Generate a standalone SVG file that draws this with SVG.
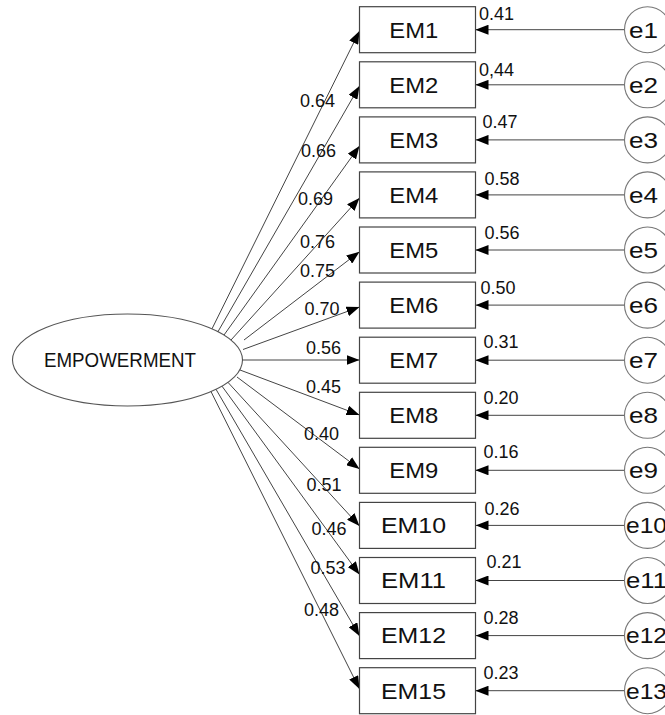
<svg xmlns="http://www.w3.org/2000/svg" width="665" height="715" viewBox="0 0 665 715">
<defs>
<marker id="ah" viewBox="0 0 13 10" refX="13" refY="5" markerWidth="13" markerHeight="10" markerUnits="userSpaceOnUse" orient="auto">
<path d="M0,0 L13,5 L0,10 z" fill="#000"/>
</marker>
</defs>
<style>
text{font-family:"Liberation Sans",Arial,sans-serif;fill:#111}
.box{fill:#fff;stroke:#444;stroke-width:1.2}
.err{fill:#fff;stroke:#777;stroke-width:1.1}
.lat{fill:#fff;stroke:#555;stroke-width:1.1}
.c{stroke:#444;stroke-width:1;fill:none;marker-end:url(#ah)}
.x{stroke:#444;stroke-width:1;fill:none}
.bl{font-size:22px;text-anchor:middle}
.el{font-size:21.5px}
.lb{font-size:18px}
</style>
<rect width="665" height="715" fill="#fff"/>
<g id="EMPOWERMENT">
<ellipse class="lat" cx="127.5" cy="360" rx="115" ry="46"/>
<text x="44" y="366.7" font-size="19.5" textLength="152" lengthAdjust="spacingAndGlyphs">EMPOWERMENT</text>
</g>
<g id="connectors">
<line class="c" x1="212" y1="328.8" x2="359.5" y2="31"/>
<line class="c" x1="218" y1="331.6" x2="359.5" y2="86"/>
<line class="c" x1="224" y1="335" x2="359.5" y2="146"/>
<line class="c" x1="231" y1="340" x2="359.5" y2="198"/>
<line class="c" x1="244" y1="340" x2="359.5" y2="251.7"/>
<line class="x" x1="359.5" y1="251.7" x2="367" y2="246"/>
<line class="c" x1="243" y1="349.5" x2="359.5" y2="307"/>
<line class="c" x1="242.5" y1="360" x2="359.5" y2="360"/>
<line class="c" x1="240" y1="370" x2="359.5" y2="415"/>
<line class="c" x1="237" y1="377" x2="359.5" y2="469"/>
<line class="c" x1="228" y1="382.4" x2="359.5" y2="526"/>
<line class="c" x1="222" y1="386.2" x2="359.5" y2="574.6"/>
<line class="x" x1="359.5" y1="574.6" x2="364.7" y2="581.7"/>
<line class="c" x1="216" y1="389.3" x2="359.5" y2="636"/>
<line class="c" x1="211" y1="391.6" x2="359.5" y2="689"/>
<line class="c" x1="624.5" y1="29.7" x2="475.5" y2="29.7"/>
<line class="c" x1="624.5" y1="84.8" x2="475.5" y2="84.8"/>
<line class="c" x1="624.5" y1="139.9" x2="475.5" y2="139.9"/>
<line class="c" x1="624.5" y1="194.9" x2="475.5" y2="194.9"/>
<line class="c" x1="624.5" y1="250" x2="475.5" y2="250"/>
<line class="c" x1="624.5" y1="305.1" x2="475.5" y2="305.1"/>
<line class="c" x1="624.5" y1="360.2" x2="475.5" y2="360.2"/>
<line class="c" x1="624.5" y1="415.3" x2="475.5" y2="415.3"/>
<line class="c" x1="624.5" y1="470.3" x2="475.5" y2="470.3"/>
<line class="c" x1="624.5" y1="525.4" x2="475.5" y2="525.4"/>
<line class="c" x1="624.5" y1="580.5" x2="475.5" y2="580.5"/>
<line class="c" x1="624.5" y1="635.6" x2="475.5" y2="635.6"/>
<line class="c" x1="624.5" y1="690.7" x2="475.5" y2="690.7"/>
</g>
<g id="loadings" class="lb">
<text x="300" y="106.7">0.64</text>
<text x="301" y="156.7">0.66</text>
<text x="298" y="205">0.69</text>
<text x="300" y="248">0.76</text>
<text x="300" y="277">0.75</text>
<text x="304.5" y="315">0.70</text>
<text x="306" y="354">0.56</text>
<text x="306" y="393.3">0.45</text>
<text x="304" y="440">0.40</text>
<text x="306.6" y="490.7">0.51</text>
<text x="311.5" y="535">0.46</text>
<text x="310.5" y="574">0.53</text>
<text x="304" y="615.7">0.48</text>
</g>
<g id="variances" class="lb">
<text x="479" y="20">0.41</text>
<text x="479" y="76">0,44</text>
<text x="482.5" y="128.3">0.47</text>
<text x="484.5" y="185">0.58</text>
<text x="484.5" y="239">0.56</text>
<text x="480.5" y="294.3">0.50</text>
<text x="483.5" y="348.3">0.31</text>
<text x="483.5" y="404.3">0.20</text>
<text x="483.5" y="457.7">0.16</text>
<text x="484.5" y="515">0.26</text>
<text x="486.4" y="568.3">0.21</text>
<text x="483.5" y="624.3">0.28</text>
<text x="483.5" y="679.3">0.23</text>
</g>
<g id="EM1"><rect class="box" x="359.5" y="6.7" width="116" height="46"/><text class="bl" x="413.8" y="37.5" textLength="49" lengthAdjust="spacingAndGlyphs">EM1</text></g>
<g id="EM2"><rect class="box" x="359.5" y="61.8" width="116" height="46"/><text class="bl" x="413.8" y="92.6" textLength="49" lengthAdjust="spacingAndGlyphs">EM2</text></g>
<g id="EM3"><rect class="box" x="359.5" y="116.9" width="116" height="46"/><text class="bl" x="413.8" y="147.7" textLength="49" lengthAdjust="spacingAndGlyphs">EM3</text></g>
<g id="EM4"><rect class="box" x="359.5" y="171.9" width="116" height="46"/><text class="bl" x="413.8" y="202.7" textLength="49" lengthAdjust="spacingAndGlyphs">EM4</text></g>
<g id="EM5"><rect class="box" x="359.5" y="227" width="116" height="46"/><text class="bl" x="413.8" y="257.8" textLength="49" lengthAdjust="spacingAndGlyphs">EM5</text></g>
<g id="EM6"><rect class="box" x="359.5" y="282.1" width="116" height="46"/><text class="bl" x="413.8" y="312.9" textLength="49" lengthAdjust="spacingAndGlyphs">EM6</text></g>
<g id="EM7"><rect class="box" x="359.5" y="337.2" width="116" height="46"/><text class="bl" x="413.8" y="368" textLength="49" lengthAdjust="spacingAndGlyphs">EM7</text></g>
<g id="EM8"><rect class="box" x="359.5" y="392.3" width="116" height="46"/><text class="bl" x="413.8" y="423.1" textLength="49" lengthAdjust="spacingAndGlyphs">EM8</text></g>
<g id="EM9"><rect class="box" x="359.5" y="447.3" width="116" height="46"/><text class="bl" x="413.8" y="478.1" textLength="49" lengthAdjust="spacingAndGlyphs">EM9</text></g>
<g id="EM10"><rect class="box" x="359.5" y="502.4" width="116" height="46"/><text class="bl" x="413.5" y="533.2" textLength="65" lengthAdjust="spacingAndGlyphs">EM10</text></g>
<g id="EM11"><rect class="box" x="359.5" y="557.5" width="116" height="46"/><text class="bl" x="413.5" y="588.3" textLength="65" lengthAdjust="spacingAndGlyphs">EM11</text></g>
<g id="EM12"><rect class="box" x="359.5" y="612.6" width="116" height="46"/><text class="bl" x="413.5" y="643.4" textLength="65" lengthAdjust="spacingAndGlyphs">EM12</text></g>
<g id="EM15"><rect class="box" x="359.5" y="667.7" width="116" height="46"/><text class="bl" x="413.5" y="698.5" textLength="65" lengthAdjust="spacingAndGlyphs">EM15</text></g>
<g id="e1"><circle class="err" cx="647.5" cy="29.7" r="23"/><text class="el" x="629" y="37.5" textLength="29" lengthAdjust="spacingAndGlyphs">e1</text></g>
<g id="e2"><circle class="err" cx="647.5" cy="84.8" r="23"/><text class="el" x="629" y="92.6" textLength="29" lengthAdjust="spacingAndGlyphs">e2</text></g>
<g id="e3"><circle class="err" cx="647.5" cy="139.9" r="23"/><text class="el" x="629" y="147.7" textLength="29" lengthAdjust="spacingAndGlyphs">e3</text></g>
<g id="e4"><circle class="err" cx="647.5" cy="194.9" r="23"/><text class="el" x="629" y="202.7" textLength="29" lengthAdjust="spacingAndGlyphs">e4</text></g>
<g id="e5"><circle class="err" cx="647.5" cy="250" r="23"/><text class="el" x="629" y="257.8" textLength="29" lengthAdjust="spacingAndGlyphs">e5</text></g>
<g id="e6"><circle class="err" cx="647.5" cy="305.1" r="23"/><text class="el" x="629" y="312.9" textLength="29" lengthAdjust="spacingAndGlyphs">e6</text></g>
<g id="e7"><circle class="err" cx="647.5" cy="360.2" r="23"/><text class="el" x="629" y="368" textLength="29" lengthAdjust="spacingAndGlyphs">e7</text></g>
<g id="e8"><circle class="err" cx="647.5" cy="415.3" r="23"/><text class="el" x="629" y="423.1" textLength="29" lengthAdjust="spacingAndGlyphs">e8</text></g>
<g id="e9"><circle class="err" cx="647.5" cy="470.3" r="23"/><text class="el" x="629" y="478.1" textLength="29" lengthAdjust="spacingAndGlyphs">e9</text></g>
<g id="e10"><circle class="err" cx="647.5" cy="525.4" r="23"/><text class="el" x="626" y="533.2" textLength="41" lengthAdjust="spacingAndGlyphs">e10</text></g>
<g id="e11"><circle class="err" cx="647.5" cy="580.5" r="23"/><text class="el" x="626" y="588.3" textLength="41" lengthAdjust="spacingAndGlyphs">e11</text></g>
<g id="e12"><circle class="err" cx="647.5" cy="635.6" r="23"/><text class="el" x="626" y="643.4" textLength="41" lengthAdjust="spacingAndGlyphs">e12</text></g>
<g id="e13"><circle class="err" cx="647.5" cy="690.7" r="23"/><text class="el" x="626" y="698.5" textLength="41" lengthAdjust="spacingAndGlyphs">e13</text></g>
</svg>
